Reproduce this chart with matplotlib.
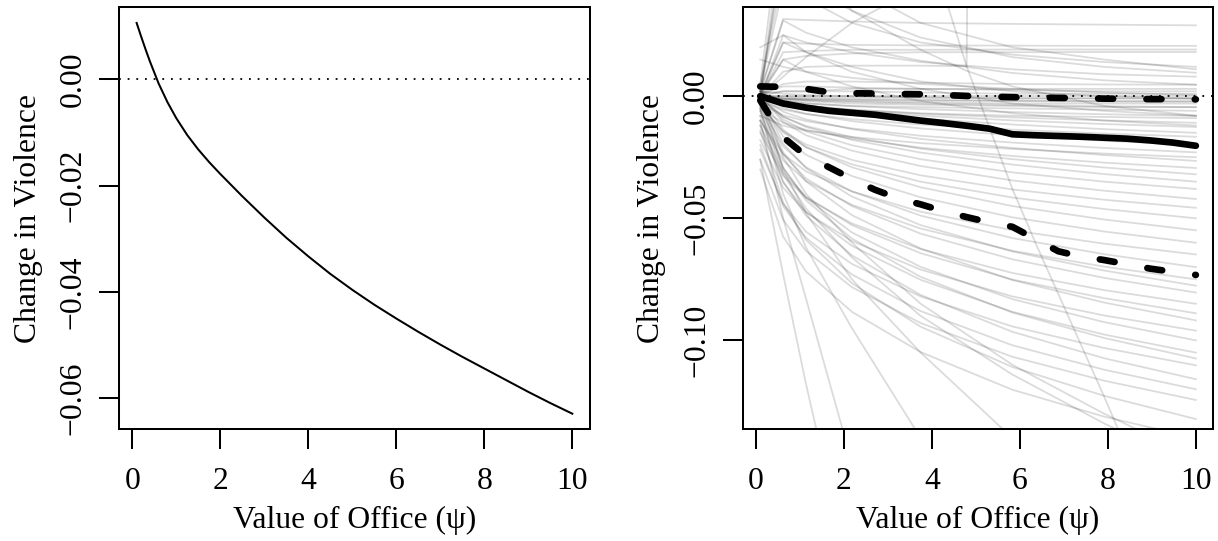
import matplotlib
matplotlib.use("Agg")
import matplotlib.pyplot as plt

plt.rcParams["font.family"] = ["Liberation Serif", "DejaVu Serif"]
plt.rcParams["font.size"] = 22.8
plt.rcParams["axes.linewidth"] = 1.45

# ---------------------------------------------------------------------------
# Left panel: point estimate of the change in violence by value of office
psi = [0.1, 0.2, 0.3, 0.4, 0.5, 0.6, 0.8, 1.0, 1.25, 1.5, 1.75, 2.0, 2.5, 3.0,
       3.5, 4.0, 4.5, 5.0, 5.5, 6.0, 6.5, 7.0, 7.5, 8.0, 8.5, 9.0, 9.5, 10.0]
change = [0.0106, 0.0081, 0.0057, 0.0034, 0.0013, -0.0008, -0.0043, -0.0073,
          -0.0105, -0.0132, -0.0156, -0.0178, -0.0220, -0.0260, -0.0298,
          -0.0333, -0.0366, -0.0396, -0.0424, -0.0450, -0.0475, -0.0499,
          -0.0522, -0.0544, -0.0566, -0.0588, -0.0609, -0.0629]

# ---------------------------------------------------------------------------
# Right panel: simulated curves and their pointwise summaries
psi_grid = [0.1, 0.621, 1.142, 1.663, 2.184, 2.705, 3.226, 3.747, 4.268, 4.789,
            5.311, 5.832, 6.353, 6.874, 7.395, 7.916, 8.437, 8.958, 9.479, 10.0]
sim_median = [0.0, -0.0030, -0.0047, -0.0060, -0.0068, -0.0076, -0.0088,
              -0.0100, -0.0110, -0.0121, -0.0133, -0.0156, -0.0160, -0.0163,
              -0.0166, -0.0170, -0.0174, -0.0181, -0.0190, -0.0203]
sim_upper = [0.0040, 0.0038, 0.0030, 0.0016, 0.0012, 0.0011, 0.0009, 0.0008,
             0.0005, 0.0001, -0.0002, -0.0004, -0.0006, -0.0007, -0.0008,
             -0.0010, -0.0011, -0.0012, -0.0012, -0.0013]
sim_lower = [-0.0017, -0.0168, -0.0245, -0.0291, -0.0339, -0.0383, -0.0418,
             -0.0443, -0.0471, -0.0495, -0.0517, -0.0535, -0.0585, -0.0635,
             -0.0657, -0.0671, -0.0688, -0.0706, -0.0719, -0.0732]

# Individual simulation draws, evaluated on a coarser grid
draw_psi = [0.1, 0.621, 1.142, 2.184, 3.747, 5.832, 7.916, 10.0]
draws_near_zero = [
    [0.000, 0.002, 0.002, 0.003, 0.003, 0.003, 0.003, 0.003],
    [0.001, 0.002, 0.002, 0.002, 0.0015, 0.001, 0.001, 0.001],
    [0.000, 0.000, 0.000, 0.000, 0.000, 0.000, 0.000, 0.000],
    [0.000, 0.000, -0.0003, -0.0005, -0.0006, -0.0007, -0.0008, -0.0008],
    [0.000, -0.0005, -0.001, -0.0012, -0.0015, -0.0018, -0.002, -0.002],
    [0.000, -0.001, -0.0015, -0.002, -0.0025, -0.003, -0.003, -0.003],
    [0.000, -0.0015, -0.002, -0.003, -0.0035, -0.004, -0.0045, -0.0045],
    [0.000, -0.002, -0.003, -0.004, -0.0045, -0.005, -0.0055, -0.006],
    [0.002, 0.001, 0.0005, 0.000, -0.0005, -0.001, -0.001, -0.001],
    [0.001, 0.004, 0.004, 0.0035, 0.003, 0.0025, 0.002, 0.002],
    [0.000, -0.003, -0.004, -0.0055, -0.007, -0.008, -0.0085, -0.009],
    [0.000, 0.005, 0.006, 0.006, 0.0055, 0.005, 0.0048, 0.0047],
    [0.000, -0.001, -0.0012, -0.0015, -0.0018, -0.002, -0.0022, -0.0023],
]
draws_high = [
    [0.002, 0.0316, 0.0312, 0.0306, 0.030, 0.0296, 0.0293, 0.029],
    [0.001, 0.022, 0.0215, 0.021, 0.0208, 0.0207, 0.0206, 0.0206],
    [0.002, 0.031, 0.026, 0.020, 0.0145, 0.0095, 0.0065, 0.0047],
    [0.000, 0.018, 0.0185, 0.019, 0.019, 0.0191, 0.0191, 0.0191],
    [0.001, 0.015, 0.0165, 0.0175, 0.018, 0.018, 0.0181, 0.0181],
    [0.003, 0.045, 0.060, 0.070, 0.075, 0.078, 0.080, 0.080],
    [0.000, 0.008, 0.016, 0.030, 0.045, 0.060, 0.070, 0.075],
    [0.005, 0.050, 0.045, 0.035, 0.024, 0.016, 0.012, 0.0096],
    [0.000, 0.022, 0.018, 0.012, 0.006, 0.002, 0.000, -0.001],
    [0.015, 0.012, 0.010, 0.0075, 0.005, 0.003, 0.0015, 0.0005],
    [0.020, 0.025, 0.022, 0.018, 0.014, 0.011, 0.009, 0.008],
    [0.000, 0.015, 0.010, 0.004, -0.002, -0.007, -0.010, -0.012],
    [0.000, 0.025, 0.018, 0.010, 0.003, -0.003, -0.006, -0.008],
    [0.000, 0.060, 0.040, 0.030, 0.022, 0.017, 0.014, 0.012],
    [0.005, 0.080, 0.070, 0.045, 0.030, 0.020, 0.015, 0.011],
]
draws_mid = [
    [0.000, -0.0011, -0.0017, -0.0023, -0.0030, -0.0036, -0.0041, -0.0045],
    [0.000, -0.0019, -0.0029, -0.0041, -0.0053, -0.0065, -0.0074, -0.0081],
    [0.000, -0.0026, -0.0039, -0.0056, -0.0072, -0.0087, -0.0099, -0.0109],
    [0.001, -0.0023, -0.0039, -0.0059, -0.0080, -0.0099, -0.0114, -0.0126],
    [-0.002, -0.0055, -0.0073, -0.0094, -0.0116, -0.0137, -0.0153, -0.0166],
    [0.000, -0.0048, -0.0072, -0.0102, -0.0132, -0.0160, -0.0182, -0.0200],
    [-0.003, -0.0078, -0.0102, -0.0132, -0.0162, -0.0190, -0.0212, -0.0230],
    [0.000, -0.0064, -0.0095, -0.0135, -0.0175, -0.0212, -0.0241, -0.0265],
    [-0.005, -0.0109, -0.0138, -0.0174, -0.0211, -0.0245, -0.0272, -0.0294],
    [0.000, -0.0084, -0.0126, -0.0179, -0.0231, -0.0280, -0.0319, -0.0350],
    [-0.008, -0.0121, -0.0141, -0.0167, -0.0192, -0.0216, -0.0235, -0.0250],
    [0.002, -0.0021, -0.0041, -0.0067, -0.0092, -0.0116, -0.0135, -0.0150],
    [-0.001, -0.0084, -0.0122, -0.0168, -0.0215, -0.0258, -0.0292, -0.0320],
]
draws_low = [
    [0.000, -0.0105, -0.0160, -0.0223, -0.0286, -0.0345, -0.0387, -0.0421],
    [-0.004, -0.0144, -0.0198, -0.0261, -0.0324, -0.0382, -0.0424, -0.0457],
    [0.000, -0.0137, -0.0209, -0.0291, -0.0373, -0.0450, -0.0505, -0.0549],
    [-0.010, -0.0237, -0.0308, -0.0390, -0.0473, -0.0549, -0.0604, -0.0648],
    [0.000, -0.0194, -0.0295, -0.0411, -0.0528, -0.0636, -0.0714, -0.0776],
    [-0.005, -0.0239, -0.0337, -0.0450, -0.0563, -0.0668, -0.0744, -0.0804],
    [-0.012, -0.0312, -0.0412, -0.0528, -0.0643, -0.0751, -0.0827, -0.0889],
    [0.000, -0.0230, -0.0349, -0.0487, -0.0624, -0.0753, -0.0845, -0.0918],
    [-0.018, -0.0375, -0.0476, -0.0593, -0.0710, -0.0820, -0.0898, -0.0960],
    [-0.003, -0.0291, -0.0427, -0.0583, -0.0740, -0.0886, -0.0990, -0.1074],
    [-0.022, -0.0441, -0.0555, -0.0687, -0.0820, -0.0943, -0.1031, -0.1102],
    [-0.008, -0.0350, -0.0490, -0.0652, -0.0814, -0.0965, -0.1073, -0.1159],
    [-0.026, -0.0506, -0.0634, -0.0782, -0.0929, -0.1067, -0.1165, -0.1244],
    [-0.014, -0.0436, -0.0589, -0.0766, -0.0944, -0.1109, -0.1227, -0.1322],
    [-0.004, -0.0205, -0.0291, -0.0390, -0.0489, -0.0581, -0.0647, -0.0700],
    [-0.002, -0.0165, -0.0240, -0.0327, -0.0414, -0.0496, -0.0554, -0.0600],
    [-0.015, -0.0325, -0.0416, -0.0521, -0.0626, -0.0724, -0.0794, -0.0850],
    [-0.020, -0.0450, -0.0580, -0.0730, -0.0880, -0.1020, -0.1120, -0.1200],
    [-0.006, -0.0295, -0.0417, -0.0558, -0.0699, -0.0831, -0.0925, -0.1000],
    [-0.010, -0.0263, -0.0347, -0.0445, -0.0542, -0.0633, -0.0698, -0.0750],
    [-0.003, -0.0148, -0.0209, -0.0279, -0.0350, -0.0415, -0.0462, -0.0500],
    [-0.030, -0.0575, -0.0718, -0.0883, -0.1048, -0.1202, -0.1312, -0.1400],
    [0.000, -0.0095, -0.0144, -0.0201, -0.0258, -0.0312, -0.0350, -0.0380],
    [-0.012, -0.0353, -0.0473, -0.0613, -0.0752, -0.0883, -0.0976, -0.1050],
]
draws_steep = [
    [-0.026, -0.073, -0.118, -0.200, -0.300, -0.400, -0.500, -0.600],
    [-0.010, -0.050, -0.083, -0.150, -0.220, -0.300, -0.380, -0.450],
    [-0.005, -0.040, -0.062, -0.095, -0.140, -0.200, -0.250, -0.300],
    [0.000, -0.030, -0.048, -0.075, -0.105, -0.140, -0.170, -0.200],
    [0.000, -0.025, -0.040, -0.060, -0.085, -0.110, -0.130, -0.148],
    [-0.006, -0.032, -0.046, -0.066, -0.090, -0.114, -0.134, -0.152],
]
# Irregular draws evaluated on their own points
draw_jump_psi = [0.1, 0.621, 1.142, 2.184, 3.747, 4.268, 4.789, 5.311, 5.832,
                 6.353, 6.874, 7.395, 7.916, 8.437]
draw_jump = [0.002, 0.060, 0.080, 0.090, 0.070, 0.0425, 0.0123, -0.013,
             -0.038, -0.060, -0.081, -0.102, -0.123, -0.145]
draw_spike_psi = [0.1, 0.621, 1.142, 2.184, 3.747, 4.789, 5.311, 10.0]
draw_spike = [0.000, 0.010, 0.012, 0.0125, 0.0125, 0.0123, 0.900, 0.900]
draw_slide_psi = [0.1, 0.621, 1.142, 2.184, 3.747, 4.789, 5.832, 7.916, 10.0]
draw_slide = [0.000, 0.070, 0.060, 0.035, 0.019, 0.0104, 0.004, -0.004, -0.008]

x_ticks = [0, 2, 4, 6, 8, 10]
left_y_ticks = [0.00, -0.02, -0.04, -0.06]
right_y_ticks = [0.00, -0.05, -0.10]
right_y_range = (-0.13, 0.03)

x_title = "Value of Office (\u03c8)"
y_title = "Change in Violence"


def fmt(v):
    return f"{v:.2f}".replace("-", "\u2212")


def style(ax, yticks):
    lo, hi = min(psi), max(psi)
    pad = 0.04 * (hi - lo)
    ax.set_xlim(lo - pad, hi + pad)
    ax.set_xticks(x_ticks)
    ax.set_xticklabels([str(t) for t in x_ticks])
    ax.set_yticks(yticks)
    ax.set_yticklabels([fmt(t) for t in yticks], rotation=90, va="center")
    ax.tick_params(axis="both", direction="out", length=14.4, width=1.45,
                   color="black")
    ax.tick_params(axis="x", pad=12.5)
    ax.tick_params(axis="y", pad=8.5)
    ax.set_xlabel(x_title)
    ax.set_ylabel(y_title)
    ax.xaxis.set_label_coords(0.5, -0.2346)
    ax.xaxis.label.set_va("baseline")
    ax.yaxis.set_label_coords(-0.1775, 0.5)
    ax.yaxis.label.set_va("baseline")


fig = plt.figure(figsize=(12.18, 5.41), dpi=100)
ax1 = fig.add_axes([0.09787, 0.20647, 0.38629, 0.78004])
ax2 = fig.add_axes([0.60985, 0.20647, 0.38629, 0.78004])

# Left panel
ax1.axhline(0, color="black", lw=1.3, linestyle=(0, (1, 3.8)))
ax1.plot(psi, change, color="black", lw=1.45)
ylo, yhi = min(change), max(change)
ypad = 0.04 * (yhi - ylo)
ax1.set_ylim(ylo - ypad, yhi + ypad)
style(ax1, left_y_ticks)

# Right panel
gray = (0, 0, 0, 0.14)
for group in (draws_near_zero, draws_high, draws_mid, draws_low, draws_steep):
    for vals in group:
        ax2.plot(draw_psi, vals, color=gray, lw=1.3, solid_joinstyle="round")
for xs, vals in ((draw_jump_psi, draw_jump), (draw_spike_psi, draw_spike),
                 (draw_slide_psi, draw_slide)):
    ax2.plot(xs, vals, color=gray, lw=1.3, solid_joinstyle="round")

ax2.axhline(0, color="black", lw=1.3, linestyle=(0, (1, 3.8)))
ax2.plot(psi_grid, sim_upper, color="black", lw=4.8, dashes=(2.25, 5.0),
         dash_capstyle="round")
ax2.plot(psi_grid, sim_lower, color="black", lw=4.8, dashes=(2.25, 5.0),
         dash_capstyle="round")
ax2.plot(psi_grid, sim_median, color="black", lw=4.8,
         solid_capstyle="round", solid_joinstyle="round")
rlo, rhi = right_y_range
rpad = 0.04 * (rhi - rlo)
ax2.set_ylim(rlo - rpad, rhi + rpad)
style(ax2, right_y_ticks)

fig.savefig("out.png", dpi=100)
